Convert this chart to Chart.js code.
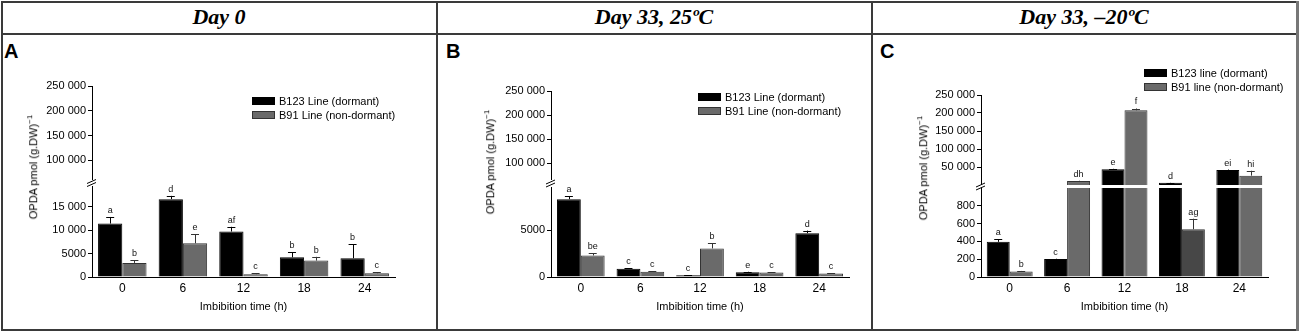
<!DOCTYPE html>
<html>
<head>
<meta charset="utf-8">
<script src="https://cdn.jsdelivr.net/npm/chart.js@4.4.1/dist/chart.umd.min.js"></script>
<style>
  html, body { margin: 0; padding: 0; background: #fff; }
  #fig { position: relative; width: 1300px; height: 331px; overflow: hidden; font-family: "Liberation Sans", Arial, sans-serif; color: #000; }
  .line { position: absolute; background: #3a3a3a; }
  .head { position: absolute; top: 4px; height: 28px; line-height: 28px; text-align: center; font: italic bold 22px "Liberation Serif", "Times New Roman", serif; }
  .letter { position: absolute; top: 40px; font: bold 20px "Liberation Sans", Arial, sans-serif; }
  .ytitle { position: absolute; transform: translate(-50%, -50%) rotate(-90deg); white-space: nowrap; font-size: 11px; }
  .ytitle sup { font-size: 8px; }
  .leg { position: absolute; font-size: 11px; white-space: nowrap; }
  .leg .row { height: 14px; line-height: 14px; display: flex; align-items: center; }
  .leg .box { width: 23px; height: 8px; margin-right: 4px; box-sizing: border-box; }
  canvas { position: absolute; }
</style>
</head>
<body>
<div id="fig">
  <div class="line" style="left:1px;top:1px;width:1297px;height:1.5px"></div>
  <div class="line" style="left:1px;top:33px;width:1297px;height:1.5px"></div>
  <div class="line" style="left:1px;top:329px;width:1297px;height:1.5px"></div>
  <div class="line" style="left:1px;top:1px;width:1.5px;height:330px"></div>
  <div class="line" style="left:436px;top:1px;width:1.5px;height:330px"></div>
  <div class="line" style="left:871px;top:1px;width:1.5px;height:330px"></div>
  <div class="line" style="left:1296px;top:1px;width:2.5px;height:330px;background:#777"></div>

  <div class="head" style="left:2px;width:434px">Day 0</div>
  <div class="head" style="left:437px;width:434px">Day 33, 25ºC</div>
  <div class="head" style="left:872px;width:424px">Day 33, –20ºC</div>

  <div class="letter" style="left:4px">A</div>
  <div class="letter" style="left:446px">B</div>
  <div class="letter" style="left:880px">C</div>
</div>

<script>
// x categories: imbibition time (h)
const categories = ['0', '6', '12', '18', '24'];

// Panel A, Day 0
const dormantA = [11400, 16600, 9700, 4200, 4000];
const dormantErrA = [1400, 700, 1000, 1100, 3000];
const dormantLettersA = ['a', 'd', 'af', 'b', 'b'];
const nonDormantA = [3000, 7200, 600, 3500, 800];
const nonDormantErrA = [600, 1900, 200, 800, 200];
const nonDormantLettersA = ['b', 'e', 'c', 'b', 'c'];
const upperTicksA = [100000, 150000, 200000, 250000];
const lowerTicksA = [0, 5000, 10000, 15000];

// Panel B, Day 33 at 25 C
const dormantB = [8300, 880, 180, 500, 4680];
const dormantErrB = [300, 70, 30, 60, 270];
const dormantLettersB = ['a', 'c', 'c', 'e', 'd'];
const nonDormantB = [2300, 570, 3050, 480, 380];
const nonDormantErrB = [250, 60, 550, 40, 40];
const nonDormantLettersB = ['be', 'c', 'b', 'c', 'c'];
const upperTicksB = [100000, 150000, 200000, 250000];
const lowerTicksB = [0, 5000];

// Panel C, Day 33 at -20 C
const dormantC = [395, 203, 43500, 6400, 41500];
const dormantErrC = [28, 3, 1500, 500, 1500];
const dormantLettersC = ['a', 'c', 'e', 'd', 'ei'];
const nonDormantC = [62, 11000, 207500, 537, 26000];
const nonDormantErrC = [6, 800, 5000, 118, 13500];
const nonDormantLettersC = ['b', 'dh', 'f', 'ag', 'hi'];
const upperTicksC = [50000, 100000, 150000, 200000, 250000];
const lowerTicksC = [0, 200, 400, 600, 800];

const fig = document.getElementById('fig');
const FONT = '"Liberation Sans", Arial, sans-serif';
const Y_AXIS_W = 70;
const X_AXIS_H = 37;

const fmtTick = v => v >= 10000 ? (v / 1000) + ' 000' : String(v);

// error bars + significance letters, only for bars whose top lies in this segment
const errorBarPlugin = {
    id: 'errorBars',
    afterDatasetsDraw(chart, args, opts) {
        const ctx = chart.ctx;
        const y = chart.scales.y;
        chart.data.datasets.forEach((ds, di) => {
            const meta = chart.getDatasetMeta(di);
            meta.data.forEach((bar, i) => {
                const v = ds.values[i];
                const inHere = opts.lower ? v <= opts.split : v > opts.split;
                if (!inHere) return;
                const yBar = y.getPixelForValue(v);
                const yErr = y.getPixelForValue(v + ds.errors[i]);
                ctx.save();
                ctx.strokeStyle = ds.borderColor;
                ctx.lineWidth = 1;
                ctx.beginPath();
                ctx.moveTo(Math.round(bar.x) + 0.5, yBar);
                ctx.lineTo(Math.round(bar.x) + 0.5, yErr);
                ctx.moveTo(bar.x - 4, Math.round(yErr) + 0.5);
                ctx.lineTo(bar.x + 4, Math.round(yErr) + 0.5);
                ctx.stroke();
                ctx.fillStyle = '#111';
                ctx.font = '9px ' + FONT;
                ctx.textAlign = 'center';
                ctx.textBaseline = 'bottom';
                ctx.fillText(ds.letters[i], bar.x, Math.min(yErr, yBar) - 2);
                ctx.restore();
            });
        });
    }
};

// the "//" marks where the y axis is broken
const axisBreakPlugin = {
    id: 'axisBreak',
    afterDraw(chart, args, opts) {
        if (!opts.show) return;
        const ctx = chart.ctx;
        const x = chart.chartArea.left;
        const mid = chart.chartArea.top - opts.offset;
        ctx.save();
        ctx.strokeStyle = '#000';
        ctx.lineWidth = 1;
        ctx.beginPath();
        [mid - 1.5, mid + 1.5].forEach(yy => {
            ctx.moveTo(x - 5, yy + 2);
            ctx.lineTo(x + 4, yy - 2);
        });
        ctx.stroke();
        ctx.restore();
    }
};

function makeSegment(p, lower) {
    const top = lower ? p.lowerTop - 10 : p.upperTop - 10;
    const bottom = lower ? p.baseY + X_AXIS_H + 2 : p.upperBottom;
    const left = p.axisX - Y_AXIS_W;
    const width = p.xRight + 10 - left;
    const height = bottom - top;

    const canvas = document.createElement('canvas');
    canvas.width = width;
    canvas.height = height;
    canvas.style.left = left + 'px';
    canvas.style.top = top + 'px';
    fig.appendChild(canvas);

    const pick = vals => vals.map(v => lower ? v : (v > p.lowerMax ? v : null));
    const ticks = lower ? p.lowerTicks : p.upperTicks;

    new Chart(canvas, {
        type: 'bar',
        data: {
            labels: categories,
            datasets: [{
                label: p.names[0],
                data: pick(p.dormant),
                values: p.dormant,
                errors: p.dormantErr,
                letters: p.dormantLetters,
                backgroundColor: '#000',
                borderColor: '#000',
                borderWidth: 1,
                clip: 0
            }, {
                label: p.names[1],
                data: pick(p.nonDormant),
                values: p.nonDormant,
                errors: p.nonDormantErr,
                letters: p.nonDormantLetters,
                backgroundColor: ctx => p.darkBar === ctx.dataIndex ? '#474747' : '#6a6a6a',
                borderColor: '#333',
                borderWidth: 1,
                clip: 0
            }]
        },
        options: {
            responsive: false,
            animation: false,
            events: [],
            datasets: { bar: { categoryPercentage: 0.8, barPercentage: 1.0, borderSkipped: 'start' } },
            layout: { padding: { top: 10, right: 10, left: 0, bottom: lower ? 2 : 0 } },
            plugins: {
                legend: { display: false },
                tooltip: { enabled: false },
                errorBars: { lower: lower, split: p.lowerMax },
                axisBreak: { show: lower, offset: p.breakOffset }
            },
            scales: {
                x: {
                    display: lower,
                    grid: { display: false, drawTicks: false },
                    border: { display: true, color: '#000', width: 1 },
                    ticks: { color: '#000', padding: 4, font: { family: FONT, size: 12 } },
                    title: { display: true, text: 'Imbibition time (h)', color: '#000', padding: 0, font: { family: FONT, size: 11 } },
                    afterFit: s => { s.height = lower ? X_AXIS_H : 0; s.paddingLeft = 0; s.paddingRight = 0; }
                },
                y: {
                    min: lower ? 0 : p.upperMin,
                    max: lower ? p.lowerMax : 250000,
                    afterBuildTicks: s => { s.ticks = ticks.map(v => ({ value: v })); },
                    afterFit: s => { s.width = Y_AXIS_W; s.paddingTop = 0; s.paddingBottom = 0; },
                    grid: { drawOnChartArea: false, drawTicks: true, tickLength: 4, color: '#000' },
                    border: { display: true, color: '#000', width: 1 },
                    ticks: { color: '#000', padding: 2, font: { family: FONT, size: 11 }, callback: v => fmtTick(v) }
                }
            }
        },
        plugins: [errorBarPlugin, axisBreakPlugin]
    });
}

function addText(p) {
    const yt = document.createElement('div');
    yt.className = 'ytitle';
    yt.style.left = p.yTitle[0] + 'px';
    yt.style.top = p.yTitle[1] + 'px';
    yt.innerHTML = 'OPDA pmol (g.DW)<sup>−1</sup>';
    fig.appendChild(yt);

    const leg = document.createElement('div');
    leg.className = 'leg';
    leg.style.left = p.legend[0] + 'px';
    leg.style.top = p.legend[1] + 'px';
    leg.innerHTML =
        '<div class="row"><span class="box" style="background:#000"></span>' + p.names[0] + '</div>' +
        '<div class="row"><span class="box" style="background:#6a6a6a;border:1px solid #333"></span>' + p.names[1] + '</div>';
    fig.appendChild(leg);
}

const panels = [{
    axisX: 92, xRight: 395, baseY: 277,
    upperTop: 86, upperBottom: 180, upperMin: 60000, lowerTop: 186, lowerMax: 19400, breakOffset: 3,
    upperTicks: upperTicksA, lowerTicks: lowerTicksA,
    dormant: dormantA, dormantErr: dormantErrA, dormantLetters: dormantLettersA,
    nonDormant: nonDormantA, nonDormantErr: nonDormantErrA, nonDormantLetters: nonDormantLettersA,
    names: ['B123 Line (dormant)', 'B91 Line (non-dormant)'],
    yTitle: [32, 167], legend: [252, 94]
}, {
    axisX: 551, xRight: 849, baseY: 277,
    upperTop: 91, upperBottom: 180, upperMin: 64600, lowerTop: 187, lowerMax: 9600, breakOffset: 3.5,
    upperTicks: upperTicksB, lowerTicks: lowerTicksB,
    dormant: dormantB, dormantErr: dormantErrB, dormantLetters: dormantLettersB,
    nonDormant: nonDormantB, nonDormantErr: nonDormantErrB, nonDormantLetters: nonDormantLettersB,
    names: ['B123 Line (dormant)', 'B91 Line (non-dormant)'],
    yTitle: [489, 162], legend: [698, 90]
}, {
    axisX: 981, xRight: 1268, baseY: 277,
    upperTop: 95, upperBottom: 185, upperMin: 0, lowerTop: 188, lowerMax: 1000, breakOffset: 1.5,
    upperTicks: upperTicksC, lowerTicks: lowerTicksC, darkBar: 3,
    dormant: dormantC, dormantErr: dormantErrC, dormantLetters: dormantLettersC,
    nonDormant: nonDormantC, nonDormantErr: nonDormantErrC, nonDormantLetters: nonDormantLettersC,
    names: ['B123 line (dormant)', 'B91 line (non-dormant)'],
    yTitle: [922, 168], legend: [1144, 66]
}];

panels.forEach(p => {
    makeSegment(p, false);
    makeSegment(p, true);
    addText(p);
});
</script>
</body>
</html>
